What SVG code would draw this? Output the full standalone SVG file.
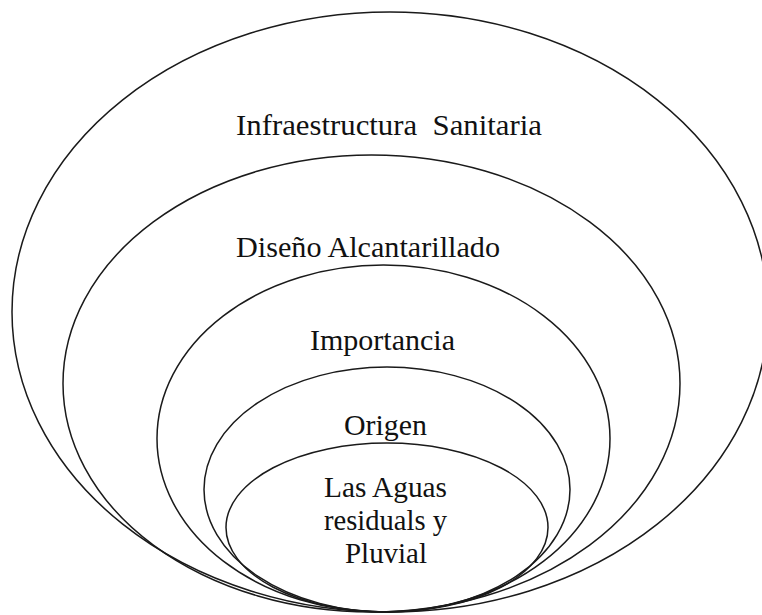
<svg xmlns="http://www.w3.org/2000/svg" width="762" height="615" viewBox="0 0 762 615">
<style>
.ring{fill:none;stroke:#1a1a1a;stroke-width:1.5}
.lbl{font-family:"Liberation Serif","Times New Roman",serif;font-size:29px;fill:#111}
</style>
<rect width="762" height="615" fill="#ffffff"/>
<g id="node-infraestructura">
<ellipse class="ring" cx="390" cy="312" rx="378" ry="300"/>
<text class="lbl" x="236" y="135" textLength="306" lengthAdjust="spacingAndGlyphs" xml:space="preserve">Infraestructura  Sanitaria</text>
</g>
<g id="node-diseno">
<ellipse class="ring" cx="371.5" cy="383.5" rx="308.5" ry="228.5"/>
<text class="lbl" x="236" y="257" textLength="264" lengthAdjust="spacingAndGlyphs">Diseño Alcantarillado</text>
</g>
<g id="node-importancia">
<ellipse class="ring" cx="383.5" cy="438.5" rx="226.5" ry="173.5"/>
<text class="lbl" x="310" y="350" textLength="145" lengthAdjust="spacingAndGlyphs">Importancia</text>
</g>
<g id="node-origen">
<ellipse class="ring" cx="387" cy="489.5" rx="183" ry="122.5"/>
<text class="lbl" x="344" y="435" textLength="83" lengthAdjust="spacingAndGlyphs">Origen</text>
</g>
<g id="node-aguas">
<ellipse class="ring" cx="387" cy="527.5" rx="161" ry="84.5"/>
<text class="lbl" x="324" y="497" textLength="123" lengthAdjust="spacingAndGlyphs">Las Aguas</text>
<text class="lbl" x="324" y="530" textLength="123" lengthAdjust="spacingAndGlyphs">residuals y</text>
<text class="lbl" x="345" y="563" textLength="82" lengthAdjust="spacingAndGlyphs">Pluvial</text>
</g>
<g id="connectors"/>
</svg>
